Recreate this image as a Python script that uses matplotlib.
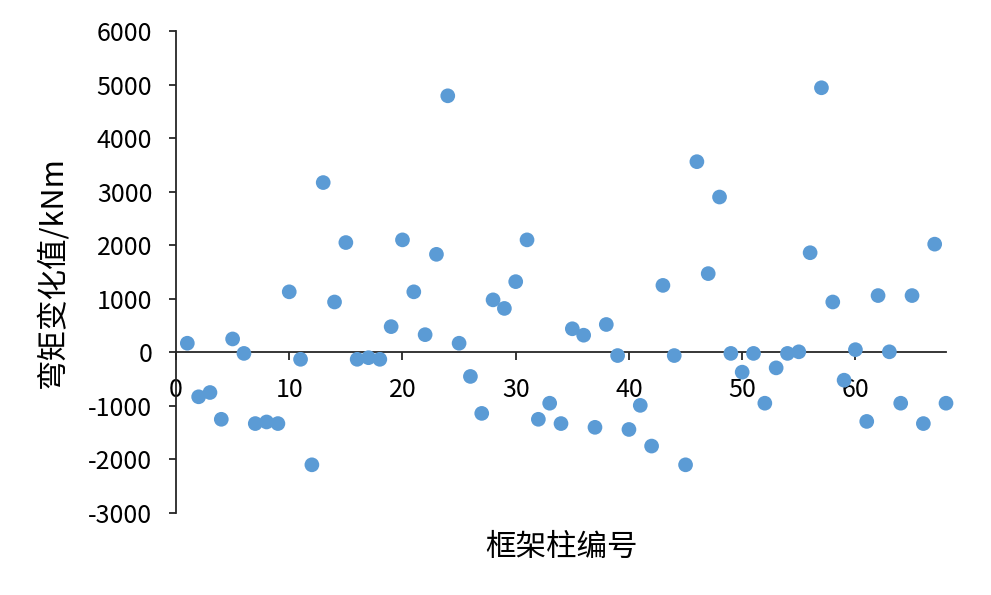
"""Scatter of bending-moment change per frame column."""

import matplotlib

matplotlib.use("Agg")
import matplotlib.pyplot as plt
import numpy as np

plt.rcParams["font.family"] = ["Noto Sans CJK SC", "DejaVu Sans"]
plt.rcParams["axes.unicode_minus"] = False

# column number -> bending moment change (kNm)
column_ids = np.arange(1, 69)
moment_change = [
    170, -830, -750, -1250, 250, -20, -1330, -1300, -1330, 1130,
    -130, -2100, 3170, 940, 2050, -130, -100, -130, 480, 2100,
    1130, 330, 1830, 4790, 170, -450, -1140, 980, 820, 1320,
    2100, -1250, -950, -1330, 440, 320, -1400, 520, -60, -1440,
    -990, -1750, 1250, -60, -2100, 3560, 1470, 2900, -20, -370,
    -20, -950, -290, -20, 10, 1860, 4940, 940, -520, 50,
    -1290, 1060, 10, -950, 1060, -1330, 2020, -950,
]
x_ticks = [0, 10, 20, 30, 40, 50, 60]
y_ticks = list(range(-3000, 6001, 1000))

fig = plt.figure(figsize=(9.91, 5.95), dpi=100)
ax = fig.add_axes([0.1776, 0.1378, 0.9546 - 0.1776, 0.9479 - 0.1378])

ax.scatter(column_ids, moment_change, s=112, color="#5B9BD5", zorder=3,
           clip_on=False, edgecolors="none")

ax.set_xlim(0, 68)
ax.set_ylim(-3000, 6000)
ax.set_xticks(x_ticks)
ax.set_yticks(y_ticks)

for side in ("top", "right"):
    ax.spines[side].set_visible(False)
ax.spines["bottom"].set_position(("data", 0))
for side in ("left", "bottom"):
    ax.spines[side].set_color("#262626")
    ax.spines[side].set_linewidth(1.3)

ax.tick_params(axis="y", direction="out", length=5, width=1.3, color="#262626",
               labelsize=18, pad=12)
ax.tick_params(axis="x", direction="out", length=6, width=1.3, color="#262626",
               labelsize=18, pad=12)

ax.set_xlabel("框架柱编号", fontsize=22)
ax.xaxis.set_label_coords(0.5, -0.04)
ax.set_ylabel("弯矩变化值/kNm", fontsize=22, labelpad=14)

fig.savefig("out.png", dpi=100)
plt.close(fig)
